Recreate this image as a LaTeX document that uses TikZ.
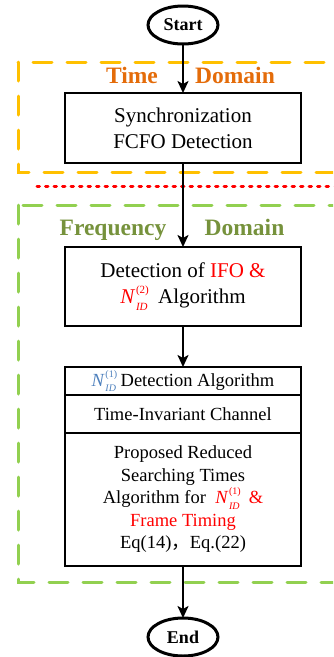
\documentclass[tikz,border=0pt]{standalone}
\usepackage{fontspec}
\setmainfont{Liberation Serif}
\newfontfamily\cjk{Noto Sans CJK SC}
\usetikzlibrary{shapes}
\usetikzlibrary{arrows.meta}
\usetikzlibrary{positioning}
\definecolor{timeline}{HTML}{FFC000}
\definecolor{timetext}{HTML}{E46C0A}
\definecolor{freqline}{HTML}{92D050}
\definecolor{freqtext}{HTML}{76923C}
\definecolor{nblue}{HTML}{4F81BD}
\newcommand{\nid}[2]{\textit{N}\kern0.03em\raisebox{0.5em}{\makebox[0pt][l]{\fontsize{#2}{#2}\selectfont(#1)}}\raisebox{-0.3em}{\fontsize{#2}{#2}\selectfont\itshape ID}}
\tikzset{
	flownode/.style = {
		align=center,
		inner sep=0pt,
		outer sep=0pt,
		draw=black,
		line width=2.5pt
	},
	node_term/.style = {
		flownode,
		ellipse,
		line width=3pt,
		minimum width=70pt,
		minimum height=38pt,
		font=\fontsize{18}{20}\selectfont\bfseries
	},
	node_box/.style = {
		flownode,
		rectangle,
		minimum width=236pt,
		font=\fontsize{21}{26}\selectfont
	},
	node_row/.style = {
		flownode,
		rectangle,
		minimum width=236pt,
		font=\fontsize{18.5}{22.5}\selectfont
	},
	domain_time/.style = {
		draw=timeline,
		dash pattern=on 19pt off 15pt,
		line cap=round,
		line width=3pt
	},
	domain_freq/.style = {
		domain_time,
		draw=freqline
	},
	title_time/.style = {
		text=timetext,
		anchor=base,
		inner sep=0pt,
		font=\fontsize{23.5}{26}\selectfont\bfseries
	},
	title_freq/.style = {
		title_time,
		text=freqtext
	},
	sep_line/.style = {
		draw=red,
		dash pattern=on 2.5pt off 6pt,
		line cap=round,
		line width=3pt
	},
}

\begin{document}
\begin{tikzpicture}[x=1pt, y=-1pt, >={Stealth[length=12pt,width=11pt,inset=3pt]}, line width=2.5pt]
\clip (0,0) rectangle (333,657);
% domains
\draw [domain_time] (18,62) rectangle (350,172);
\draw [sep_line] (37,186) -- (340,186);
\draw [domain_freq] (18,205) rectangle (350,582);
\node [title_time] (timeA) at (132,83) {Time};
\node [title_time] (timeB) at (235,83) {Domain};
\node [title_freq] (freqA) at (113,235) {Frequency};
\node [title_freq] (freqB) at (244.5,235) {Domain};
% flow
\node [node_term] (start) at (183,25) {Start};
\node [node_box, minimum height=70pt, below=49pt of start] (sync) {Synchronization\\FCFO Detection};
\node [node_box, minimum height=79pt, below=84pt of sync] (ifo) {Detection of \textcolor{red}{IFO \&}\\\textcolor{red}{\nid{2}{11}}\ \ Algorithm};
\node [node_row, minimum height=28pt, below=41pt of ifo] (nidrow) {\textcolor{nblue}{\nid{1}{10}} Detection Algorithm};
\node [node_row, minimum height=38pt, below=0pt of nidrow] (chanrow) {Time-Invariant Channel};
\node [node_row, minimum height=133pt, below=0pt of chanrow] (algrow) {Proposed Reduced\\Searching Times\\Algorithm for \ \textcolor{red}{\nid{1}{10}\ \ \&}\\\textcolor{red}{Frame Timing}\\Eq(14){\cjk ，}Eq.(22)};
\node [node_term, below=52pt of algrow] (end) {End};
% arrows
\draw [->] (start) -- (sync);
\draw [->] (sync) -- (ifo);
\draw [->] (ifo) -- (nidrow);
\draw [->] (algrow) -- (end);
\end{tikzpicture}
\end{document}
